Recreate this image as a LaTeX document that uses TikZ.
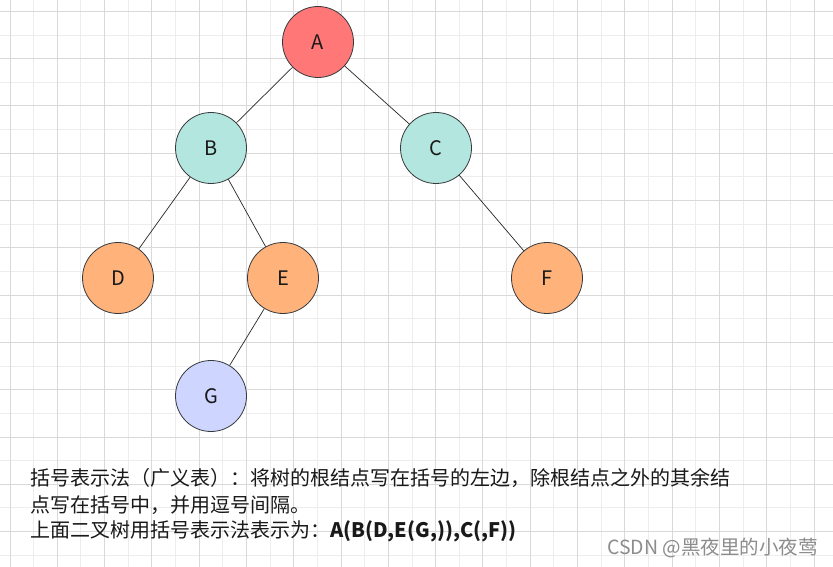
\documentclass[tikz,border=0pt]{standalone}
\usepackage{fontspec}
\setmainfont{Noto Sans CJK SC}
\usetikzlibrary{calc}

\definecolor{rootred}{HTML}{FF7777}
\definecolor{mint}{HTML}{B3E6DE}
\definecolor{leaforange}{HTML}{FFB27A}
\definecolor{lilac}{HTML}{CED5FF}
\definecolor{rim}{HTML}{36393D}
\definecolor{gridmajor}{HTML}{D9D9D9}
\definecolor{gridminor}{HTML}{EDEDED}

\tikzset{
  treenode/.style={circle,draw=rim,line width=0.8,minimum size=71,inner sep=0,
    text=black!90,font=\fontsize{20}{24}\selectfont},
  treeedge/.style={line width=0.7,black!85},
  note/.style={anchor=west,inner sep=0,text=black!90,font=\fontsize{20}{24}\selectfont},
}

\begin{document}
\begin{tikzpicture}[x=1pt,y=-1pt]
\useasboundingbox (0,0) rectangle (833,567);
% ---------- background grid: 23.65px cells, every second line darker ----------
\fill[white] (0,0) rectangle (833,567);
\foreach \k in {0,...,34}{
  \pgfmathsetmacro{\gx}{10+\k*23.647}
  \ifodd\k \draw[gridminor,line width=1] (\gx,0) -- (\gx,567); \fi}
\foreach \k in {0,...,23}{
  \pgfmathsetmacro{\gy}{11.4+\k*23.647}
  \ifodd\k \draw[gridminor,line width=1] (0,\gy) -- (833,\gy); \fi}
\foreach \k in {0,2,...,34}{
  \pgfmathsetmacro{\gx}{10+\k*23.647}
  \draw[gridmajor,line width=1] (\gx,0) -- (\gx,567);}
\foreach \k in {0,2,...,22}{
  \pgfmathsetmacro{\gy}{11.4+\k*23.647}
  \draw[gridmajor,line width=1] (0,\gy) -- (833,\gy);}
% ---------- binary tree ----------
\node[treenode,fill=rootred]    (A) at (318,42)  {A};
\node[treenode,fill=mint]       (B) at (211,148) {B};
\node[treenode,fill=mint]       (C) at (436,148) {C};
\node[treenode,fill=leaforange] (D) at (118,278) {D};
\node[treenode,fill=leaforange] (E) at (283,278) {E};
\node[treenode,fill=leaforange] (F) at (547,278) {F};
\node[treenode,fill=lilac]      (G) at (211,396) {G};
\foreach \p/\c in {A/B, A/C, B/D, B/E, C/F, E/G}{
  \draw[treeedge] (\p) -- (\c);}
% ---------- explanation ----------
\node[note] (line1) at (30,478) {括号表示法（广义表）：将树的根结点写在括号的左边，除根结点之外的其余结};
\node[note] (line2) at (30,505) {点写在括号中，并用逗号间隔。};
\node[note] (line3) at (30,531) {上面二叉树用括号表示法表示为：\textbf{A(B(D,E(G,)),C(,F))}};
% watermark
\node[anchor=west,inner sep=0,text=black!45,font=\fontsize{19.5}{22}\selectfont] (mark) at (607,548) {CSDN @黑夜里的小夜莺};
\end{tikzpicture}
\end{document}
